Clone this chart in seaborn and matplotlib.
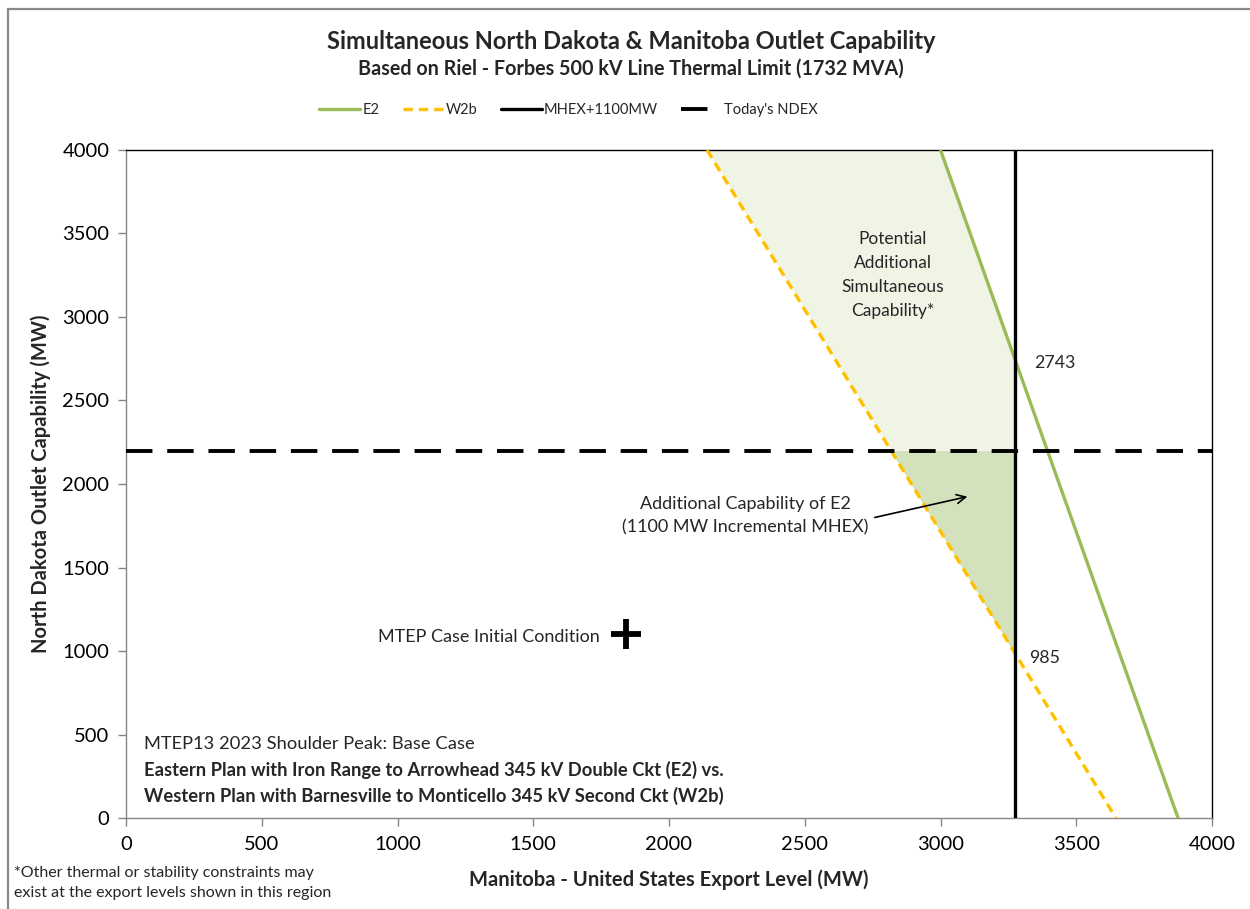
import numpy as np
import pandas as pd
import matplotlib
matplotlib.use("Agg")
import matplotlib.pyplot as plt
from matplotlib.lines import Line2D
import seaborn as sns

# ---- data ----
e2_x = [3000, 3275, 3875]
e2_y = [4000, 2743, 0]
w2b_x = [2140, 3275, 3646]
w2b_y = [4000, 985, 0]
mhex_x = 3275          # MHEX+1100MW limit
ndex_y = 2200          # today's NDEX
initial_x, initial_y = 1840, 1100
x_ticks = [0, 500, 1000, 1500, 2000, 2500, 3000, 3500, 4000]
y_ticks = [0, 500, 1000, 1500, 2000, 2500, 3000, 3500, 4000]
series_labels = ["E2", "W2b", "MHEX+1100MW", "Today's NDEX"]

GREEN = "#9BBB59"
ORANGE = "#FFC000"
LIGHT_FILL = "#EFF4E5"
DARK_FILL = "#D3E2BC"
GRID_GRAY = "#868686"

W2B_DASH = (2.8, 1.8)
NDEX_DASH = (6.8, 3.8)

sns.set_theme(style="white")
plt.rcParams["font.family"] = ["Lato", "DejaVu Sans"]

fig = plt.figure(figsize=(12.5, 9.09), dpi=100)
ax = fig.add_axes([0.1008, 0.1001, 0.8688, 0.7349])

df_e2 = pd.DataFrame({"x": e2_x, "y": e2_y})
df_w2b = pd.DataFrame({"x": w2b_x, "y": w2b_y})


def x_at(xs, ys, y):
    return float(np.interp(y, ys[::-1], xs[::-1]))


# shaded regions
top = y_ticks[-1]
w_top = x_at(w2b_x, w2b_y, top)
e_top = x_at(e2_x, e2_y, top)
e_mhex = float(np.interp(mhex_x, e2_x, e2_y))
w_mhex = float(np.interp(mhex_x, w2b_x, w2b_y))
w_ndex = x_at(w2b_x, w2b_y, ndex_y)
ax.fill([w_top, e_top, mhex_x, mhex_x, w_ndex],
        [top, top, e_mhex, ndex_y, ndex_y], color=LIGHT_FILL, lw=0, zorder=1)
ax.fill([w_ndex, mhex_x, mhex_x], [ndex_y, ndex_y, w_mhex],
        color=DARK_FILL, lw=0, zorder=1)

sns.lineplot(data=df_e2, x="x", y="y", ax=ax, color=GREEN, lw=2.4,
             label=series_labels[0], zorder=3, sort=False)
sns.lineplot(data=df_w2b, x="x", y="y", ax=ax, color=ORANGE, lw=2.4,
             label=series_labels[1], zorder=3, sort=False, dashes=False)
ax.lines[-1].set_dashes(W2B_DASH)
ax.axvline(mhex_x, color="black", lw=2.4, zorder=4, label=series_labels[2])
ax.axhline(ndex_y, color="black", lw=2.8, dashes=NDEX_DASH, zorder=4,
           label=series_labels[3])

ax.plot([initial_x], [initial_y], marker="+", ms=22, mew=4.2, color="black",
        zorder=5)

ax.set_xlim(0, 4000)
ax.set_ylim(0, 4000)
ax.set_xticks(x_ticks)
ax.set_yticks(y_ticks)
ax.tick_params(axis="both", which="major", direction="out", length=6,
               width=1, color=GRID_GRAY, labelsize=14.5, labelcolor="black",
               bottom=True, left=True)
ax.tick_params(axis="x", pad=7)
ax.tick_params(axis="y", pad=6)
for side in ["left", "bottom"]:
    ax.spines[side].set_color(GRID_GRAY)
    ax.spines[side].set_linewidth(1)
for side in ["top", "right"]:
    ax.spines[side].set_color("black")
    ax.spines[side].set_linewidth(1)

ax.set_xlabel("Manitoba - United States Export Level (MW)", fontsize=14.5,
              fontweight="bold", labelpad=12)
ax.set_ylabel("North Dakota Outlet Capability (MW)", fontsize=14.5,
              fontweight="bold", labelpad=8)

# annotations
ax.text(2825, 3251, "Potential\nAdditional\nSimultaneous\nCapability*",
        ha="center", va="center", fontsize=12.5, linespacing=1.6, zorder=6)
ax.annotate(f"{e2_y[1]}", xy=(mhex_x, e2_y[1]), xytext=(14, -2),
            textcoords="offset points", ha="left", va="center", fontsize=12.8)
ax.annotate(f"{w2b_y[1]}", xy=(mhex_x, w2b_y[1]), xytext=(10, -3),
            textcoords="offset points", ha="left", va="center", fontsize=12.8)
ax.annotate("", xy=(3109, 1928), xytext=(2748, 1796),
            arrowprops=dict(arrowstyle="->", color="black", lw=1.2,
                            mutation_scale=16), zorder=6)
ax.text(2280, 1808, "Additional Capability of E2\n(1100 MW Incremental MHEX)",
        ha="center", va="center", fontsize=13, linespacing=1.55, zorder=6)
ax.text(1746, 1084, "MTEP Case Initial Condition", ha="right", va="center",
        fontsize=13)

ax.text(66, 443, "MTEP13 2023 Shoulder Peak: Base Case", ha="left",
        va="center", fontsize=13.2)
ax.text(66, 287, "Eastern Plan with Iron Range to Arrowhead 345 kV Double Ckt (E2) vs.",
        ha="left", va="center", fontsize=13.2, fontweight="bold")
ax.text(66, 132, "Western Plan with Barnesville to Monticello 345 kV Second Ckt (W2b)",
        ha="left", va="center", fontsize=13.2, fontweight="bold")

# titles
fig.text(0.505, 0.954, "Simultaneous North Dakota & Manitoba Outlet Capability",
         ha="center", va="center", fontsize=17, fontweight="bold")
fig.text(0.505, 0.924, "Based on Riel - Forbes 500 kV Line Thermal Limit (1732 MVA)",
         ha="center", va="center", fontsize=14.2, fontweight="bold")

# legend
handles = [
    Line2D([], [], color=GREEN, lw=2.4),
    Line2D([], [], color=ORANGE, lw=2.4, dashes=W2B_DASH),
    Line2D([], [], color="black", lw=2.4),
    Line2D([], [], color="black", lw=2.8, dashes=NDEX_DASH),
]
ax.get_legend().remove()
fig.legend(handles, series_labels, loc="center", bbox_to_anchor=(0.455, 0.879),
           ncol=4, frameon=False, fontsize=10.5, handlelength=2.8,
           handletextpad=0.15, columnspacing=1.6)

# footnote
fig.text(0.011, 0.0285, "*Other thermal or stability constraints may\n"
         "exist at the export levels shown in this region",
         ha="left", va="center", fontsize=11.5, linespacing=1.5)

# chart-area border along the top and left edges
fig.add_artist(Line2D([0.0064, 0.0064], [0.0, 0.9906], transform=fig.transFigure,
                      color="#888888", lw=1.6))
fig.add_artist(Line2D([0.0064, 1.0], [0.9906, 0.9906], transform=fig.transFigure,
                      color="#888888", lw=1.6))

fig.savefig("out.png", dpi=100, facecolor="white")
